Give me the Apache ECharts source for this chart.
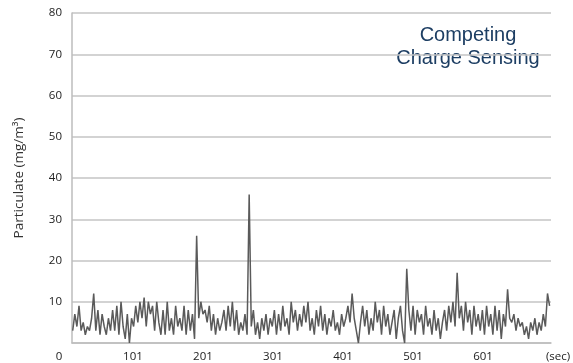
<!DOCTYPE html>
<html>
<head>
<meta charset="utf-8">
<script src="https://cdn.jsdelivr.net/npm/echarts@6/dist/echarts.min.js"></script>
<style>
html,body{margin:0;padding:0;background:#fff;}
#chart{width:573px;height:363px;}
</style>
</head>
<body>
<div id="chart"></div>
<script>
// Sample timing (seconds): first sample and sampling step
const startSec = 15;
const stepSec = 3;
// Particulate readings (mg/m³)
const particulate = [
  3,7,4,9,3,5,2,4,3,6,12,3,8,2,7,4,2,6,3,8,
  3,9,2,10,4,1,7,0,6,4,9,5,10,6,11,4,10,7,9,3,
  10,5,2,8,2,10,3,6,2,9,4,6,3,9,2,8,3,7,1,26,
  6,10,7,8,5,9,3,7,2,6,3,5,8,3,9,4,10,3,8,2,
  5,3,7,2,36,4,8,2,5,1,6,3,7,2,6,4,8,2,7,3,
  9,4,6,2,10,5,8,3,7,4,9,5,10,3,6,2,8,4,9,3,
  7,2,6,4,8,3,5,2,7,4,6,9,5,12,6,3,0,5,9,4,
  8,2,6,3,10,5,8,2,9,4,7,2,5,8,1,6,9,3,0,18,
  8,3,9,2,8,5,7,2,9,4,6,2,8,3,6,1,5,8,3,9,
  5,10,4,17,6,9,3,10,5,8,2,9,4,7,3,8,2,9,4,7,
  2,9,3,8,1,7,4,13,6,5,7,3,6,4,5,2,4,1,5,3,
  6,2,5,3,7,4,12,9
];
// Tick labels
const xTickValues = [101, 201, 301, 401, 501, 601];
const yTickValues = [10, 20, 30, 40, 50, 60, 70, 80];
const titleLines = ['Competing', 'Charge Sensing'];
const yAxisName = 'Particulate (mg/m³)';
const xUnit = '(sec)';

const seriesData = particulate.map((v, i) => [startSec + i * stepSec, v]);

const chart = echarts.init(document.getElementById('chart'), null, {renderer: 'canvas'});
const labelFont = "'Open Sans', 'DejaVu Sans', sans-serif";
chart.setOption({
  animation: false,
  backgroundColor: '#ffffff',
  grid: {left: 72, right: 22, top: 13, bottom: 20, containLabel: false},
  xAxis: {
    type: 'value',
    min: 14,
    max: 698,
    axisLine: {show: true, lineStyle: {color: '#bdbdbd', width: 1.5}},
    axisTick: {show: false},
    splitLine: {show: false},
    axisLabel: {
      customValues: xTickValues,
      color: '#222', fontSize: 11.5, fontFamily: labelFont, margin: 8
    }
  },
  yAxis: {
    type: 'value',
    min: 0,
    max: 80,
    interval: 10,
    name: yAxisName,
    nameLocation: 'middle',
    nameGap: 46,
    nameTextStyle: {color: '#333', fontSize: 13.5, fontFamily: labelFont},
    axisLine: {show: true, lineStyle: {color: '#bdbdbd', width: 1.5}},
    axisTick: {show: false},
    splitLine: {show: true, lineStyle: {color: '#c4c4c4', width: 1.5}},
    axisLabel: {
      showMinLabel: false,
      color: '#222', fontSize: 11.5, fontFamily: labelFont, margin: 10
    }
  },
  graphic: [
    {type: 'text', x: 59, y: 357, style: {text: '0', fill: '#222', align: 'center', verticalAlign: 'middle', font: "11.5px 'Open Sans', 'DejaVu Sans', sans-serif"}},
    {type: 'text', x: 558, y: 357, style: {text: xUnit, fill: '#222', align: 'center', verticalAlign: 'middle', font: "11.5px 'Open Sans', 'DejaVu Sans', sans-serif"}},
    {type: 'text', x: 468, y: 24, style: {text: titleLines.join('\n'), fill: '#1d3e63', align: 'center', verticalAlign: 'top', lineHeight: 23, font: "20px 'Liberation Sans', Arial, sans-serif"}}
  ],
  series: [{
    type: 'line',
    data: seriesData,
    showSymbol: false,
    symbol: 'none',
    lineStyle: {color: '#5a5a5a', width: 1.5},
    emphasis: {disabled: true}
  }]
});
</script>
</body>
</html>
